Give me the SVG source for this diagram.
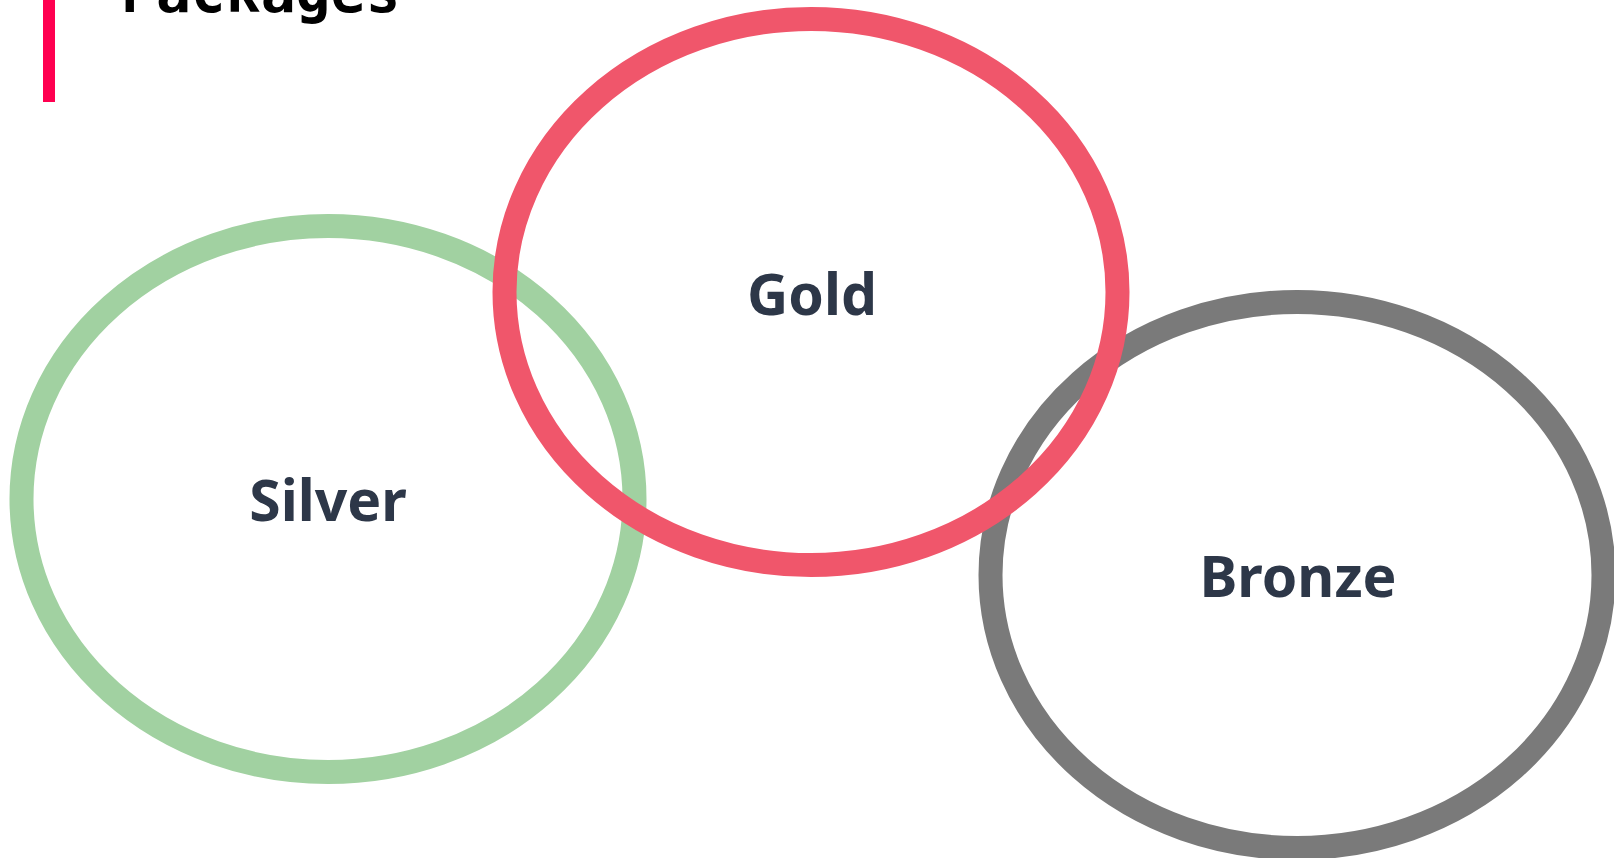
<svg xmlns="http://www.w3.org/2000/svg" width="1614" height="858" viewBox="0 0 1614 858">
  <style>
    .ring { fill: none; stroke-width: 24; }
    .label { font-family: "Noto Sans", "Open Sans", sans-serif; font-weight: 700; font-size: 57px; fill: #2d3748; text-anchor: middle; dominant-baseline: central; }
    .title { font-family: "DejaVu Sans Mono", "Liberation Mono", monospace; font-weight: 700; font-size: 58px; fill: #000000; }
  </style>
  <rect width="1614" height="858" fill="#ffffff"/>
  <g id="title">
    <rect x="43" y="0" width="12" height="102" fill="#ff0050"/>
    <text class="title" x="121" y="12">Packages</text>
  </g>
  <g id="silver">
    <ellipse class="ring" cx="328" cy="499" rx="306.5" ry="273" stroke="#a1d1a1"/>
    <text class="label" x="328" y="499">Silver</text>
  </g>
  <g id="bronze">
    <ellipse class="ring" cx="1297" cy="575" rx="306.5" ry="273" stroke="#7a7a7a"/>
    <text class="label" x="1298" y="575">Bronze</text>
  </g>
  <g id="gold">
    <ellipse class="ring" cx="811" cy="292" rx="306.5" ry="273" stroke="#f0566b"/>
    <text class="label" x="812" y="293">Gold</text>
  </g>
  <g id="connectors"></g>
</svg>
